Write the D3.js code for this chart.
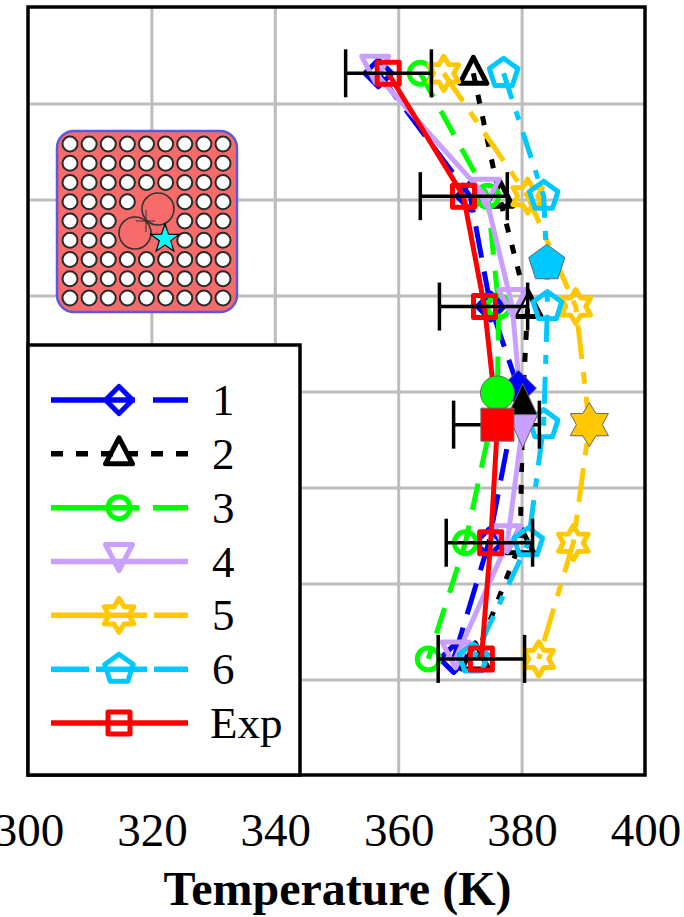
<!DOCTYPE html>
<html><head><meta charset="utf-8">
<script src="https://cdn.jsdelivr.net/npm/d3@7"></script>
<style>html,body{margin:0;padding:0;background:#fff}svg{display:block}text{font-family:"Liberation Serif",serif;fill:#000}</style>
</head><body><svg id="c" width="684" height="917"></svg>
<script>
const xTicks = [300,320,340,360,380,400];
const yGrid = [1,2,3,4,5,6,7];
const names = ["1","2","3","4","5","6","Exp"];
const colors = ["#0000ff","#000000","#00ff00","#c9a0ff","#ffc800","#00c8ff","#ff0000"];
const symbols = ["diamond","triangle","circle","triangleDown","star","pentagon","square"];
const heights = [7.32,6.04,4.89,3.66,2.43,1.22];
const h1 = [7.32,6.04,4.89,4.04,2.43,1.22];
const t1 = [356.7,371.6,374.9,379.4,374.6,368.9];
const h2 = [7.32,6.04,4.89,3.9,2.43,1.22];
const t2 = [372.1,376.3,380.9,380.1,379.7,372.4];
const h3 = [7.32,6.04,4.89,3.99,2.43,1.22];
const t3 = [363.5,374.4,376.2,376.0,370.8,364.8];
const t4 = [356.2,374.1,378.4,380.1,377.6,369.2];
const t5 = [367.3,380.9,388.7,390.9,388.3,382.7];
const h6 = [7.32,6.04,5.34,4.89,3.66,2.43,1.22];
const t6 = [377.0,383.5,384.0,384.1,383.5,381.0,372.1];
const tExp = [358.3,370.5,373.9,376.0,374.9,373.4];
const errLow = [351.4,363.5,366.6,368.9,367.7,366.4];
const errHigh = [365.3,377.6,380.9,382.8,381.7,380.4];
const seriesT = [t1,t2,t3,t4,t5,t6,tExp];
const seriesH = [h1,h2,h3,heights,heights,h6,heights];
const filledIdx = [3,3,3,3,3,2,3];
const plotDash = ["32 14","9 13","27 16",null,"34 13 12 13","27 13 9 13",null];
const legendDash = ["84 18 35","12 13","88 14 35",null,"96 7 36","38 7 51 7 35",null];

const svg = d3.select("#c");
const L=28,R=645,T=7,B=775;
const x = d3.scaleLinear().domain([300,400]).range([L+0.5,R+0.5]);
const y = d3.scaleLinear().domain([0,8]).range([B+1,T+1]);

function poly(pts){return "M"+pts.map(p=>p.map(v=>v.toFixed(2)).join(",")).join("L")+"Z";}
function radial(n,r,rot=-90,r2=null){const a=[];const c=r2?n*2:n;
  for(let i=0;i<c;i++){const q=(rot+i*360/c)*Math.PI/180;const rr=(r2&&i%2)?r2:r;a.push([rr*Math.cos(q),rr*Math.sin(q)]);}return a;}
function sym(k,filled){
  switch(k){
    case "diamond":return poly(radial(4,filled?18:13.5));
    case "triangle":return filled?poly([[0,-18],[14.5,13],[-14.5,13]]):poly([[0,-16],[13.5,10],[-13.5,10]]);
    case "triangleDown":return filled?poly([[0,23],[15,-10],[-15,-10]]):poly([[0,9],[13.5,-17],[-13.5,-17]]);
    case "circle":return d3.arc()({innerRadius:0,outerRadius:filled?17:11,startAngle:0,endAngle:2*Math.PI});
    case "star":return filled?poly(radial(6,22,-90,13)):poly(radial(6,17,-90,10));
    case "pentagon":return poly(radial(5,filled?19:15));
    case "square":return filled?poly([[-16.5,-16.5],[16.5,-16.5],[16.5,16.5],[-16.5,16.5]]):poly([[-11,-11],[11,-11],[11,11],[-11,11]]);
  }
}

// grid
svg.append("g").selectAll("line").data(xTicks.slice(1,-1)).join("line")
  .attr("x1",d=>x(d)).attr("x2",d=>x(d)).attr("y1",T).attr("y2",B)
  .attr("stroke","#bdbdbd").attr("stroke-width",3);
svg.append("g").selectAll("line").data(yGrid).join("line")
  .attr("x1",L).attr("x2",R).attr("y1",d=>y(d)).attr("y2",d=>y(d))
  .attr("stroke","#bdbdbd").attr("stroke-width",3);

const line = d3.line();
function drawSeries(i){
  const pts = seriesT[i].map((t,j)=>[x(t),y(seriesH[i][j])]);
  svg.append("path").attr("d",line(pts)).attr("fill","none").attr("stroke",colors[i])
    .attr("stroke-width",5).attr("stroke-dasharray",plotDash[i]);
  pts.forEach((p,j)=>{
    if(j===filledIdx[i]) return;
    svg.append("path").attr("d",sym(symbols[i],false)).attr("transform",`translate(${p})`)
      .attr("fill","none").attr("stroke",colors[i]).attr("stroke-width",5).attr("stroke-linejoin","round");
  });
}
d3.range(7).forEach(drawSeries);

// error bars
const eb = svg.append("g").attr("stroke","#000").attr("stroke-width",3.5);
heights.forEach((h,j)=>{
  const yy=y(h), a=x(errLow[j]), b=x(errHigh[j]);
  eb.append("line").attr("x1",a).attr("x2",b).attr("y1",yy).attr("y2",yy);
  [a,b].forEach(v=>eb.append("line").attr("x1",v).attr("x2",v).attr("y1",yy-24).attr("y2",yy+24));
});

// filled markers
d3.range(7).forEach(i=>{
  const j=filledIdx[i];
  svg.append("path").attr("d",sym(symbols[i],true))
    .attr("transform",`translate(${x(seriesT[i][j])},${y(seriesH[i][j])})`)
    .attr("fill",colors[i]).attr("stroke","#666").attr("stroke-width",1);
});

// frame
svg.append("rect").attr("x",L).attr("y",T).attr("width",R-L).attr("height",B-T)
  .attr("fill","none").attr("stroke","#000").attr("stroke-width",3.5);

// x axis labels
const ax = svg.append("g").attr("transform",`translate(0,${B})`)
  .call(d3.axisBottom(x).tickValues(xTicks).tickSize(0).tickPadding(38).tickFormat(d3.format("d")));
ax.select(".domain").remove();
ax.selectAll("text").style("font-family",'"Liberation Serif",serif').style("font-size","47px").attr("fill","#000");
svg.append("text").attr("x",337.5).attr("y",905).attr("text-anchor","middle")
  .style("font-size","48px").style("font-weight","bold").text("Temperature (K)");

// legend
svg.append("rect").attr("x",28).attr("y",345).attr("width",272).attr("height",430)
  .attr("fill","#fff").attr("stroke","#000").attr("stroke-width",3.5);
const ly = d3.scalePoint().domain(names).range([400,723]);
names.forEach((n,i)=>{
  const g=svg.append("g").attr("transform",`translate(0,${ly(n)})`);
  g.append("line").attr("x1",51).attr("x2",188).attr("stroke",colors[i]).attr("stroke-width",5.5)
    .attr("stroke-dasharray",legendDash[i]);
  g.append("path").attr("d",sym(symbols[i],false)).attr("transform","translate(119,0)")
    .attr("fill","none").attr("stroke",colors[i]).attr("stroke-width",5).attr("stroke-linejoin","round");
  g.append("text").attr("x",n==="Exp"?210:212).attr("y",15).style("font-size","45px").text(n);
});

// inset
const ins = svg.append("g");
ins.append("rect").attr("x",57).attr("y",131).attr("width",180).attr("height",181).attr("rx",17)
  .attr("fill","#f76b6b").attr("stroke","#5a5ae0").attr("stroke-width",2.5);
const holeIdx = d3.range(9);
const ix = d3.scalePoint().domain(holeIdx).range([70,223]);
const iy = d3.scalePoint().domain(holeIdx).range([144,298]);
const missing = new Set(["3,4","3,5","4,3","4,4","4,5","5,3","5,4","5,5"]);
holeIdx.forEach(r=>holeIdx.forEach(c=>{
  if(missing.has(r+","+c)) return;
  ins.append("circle").attr("cx",ix(c)).attr("cy",iy(r)).attr("r",7.5)
    .attr("fill","#fff").attr("stroke","#2a2a2a").attr("stroke-width",2);
}));
const bigHoles = [[158,209],[135,233]];
bigHoles.forEach(p=>ins.append("circle").attr("cx",p[0]).attr("cy",p[1]).attr("r",16)
  .attr("fill","#f76b6b").attr("stroke","#333").attr("stroke-width",1.6));
ins.append("path").attr("d","M146 210V232M136 221H155").attr("stroke","#333").attr("stroke-width",1).attr("fill","none");
ins.append("path").attr("d",poly(radial(5,15,-90,6))).attr("transform","translate(165,239)")
  .attr("fill","#00ffff").attr("stroke","#000").attr("stroke-width",1.2);
</script></body></html>
